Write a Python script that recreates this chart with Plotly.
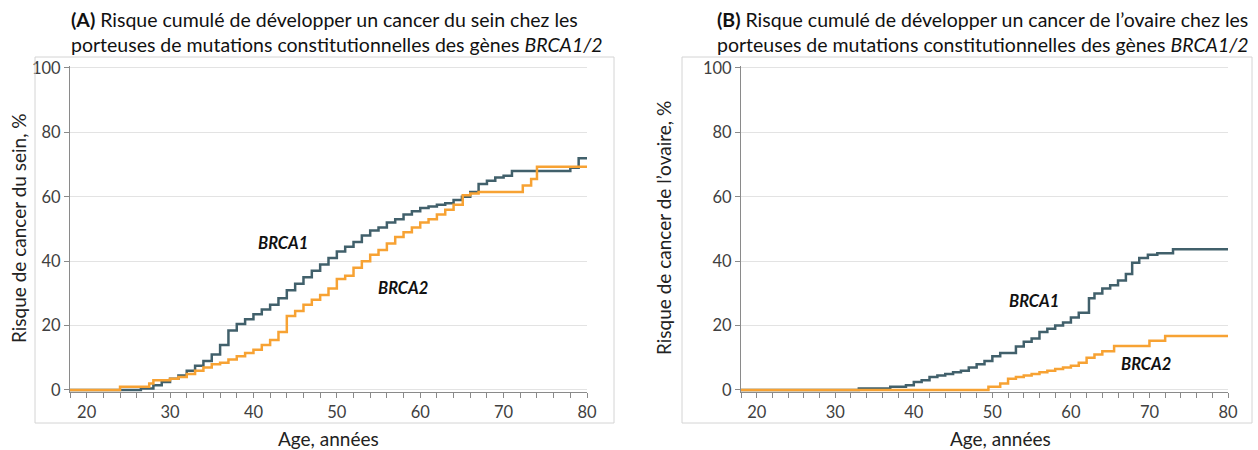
import plotly.graph_objects as go

# ---- Data ----
a_brca1_age = [18, 26.5, 28, 29, 30, 31, 32, 33, 34, 35, 36, 37, 38, 39, 40, 41, 42, 43, 44, 45, 46, 47, 48, 49,
               50, 51, 52, 53, 54, 55, 56, 57, 58, 59, 60, 61, 62, 63, 64, 65, 66, 67, 68, 69, 70, 71, 78, 79, 80]
a_brca1_val = [0, 0.5, 1.5, 2.5, 3.5, 4.5, 6, 7.5, 9, 11, 14, 18.5, 20.5, 22, 23.5, 25, 26.5, 28.5, 31, 33, 35, 37, 39, 41,
               43, 44.5, 46, 48, 49.5, 50.5, 52, 53, 54.5, 55.5, 56.5, 57, 57.5, 58, 59, 60, 61.5, 64, 65, 66, 66.5, 68, 69, 72, 72]

a_brca2_age = [18, 24, 27.5, 28, 30, 31, 32, 33, 34, 35, 36, 37, 38, 39, 40, 41, 42, 43, 44, 45, 46, 47, 48, 49,
               50, 51, 52, 53, 54, 55, 56, 57, 58, 59, 60, 61, 62, 63, 64, 65.1, 66, 67, 72.3, 73.3, 74, 80]
a_brca2_val = [0, 1, 2, 3, 3.5, 4, 5, 6, 7, 8, 8.5, 9.5, 10.5, 11.5, 12.5, 14, 15.5, 18, 23, 24.5, 26.5, 28, 29.5, 31.5,
               34.5, 35.5, 38, 40, 42, 43.5, 45.5, 47.5, 49, 50.5, 52, 53, 54.5, 56, 57.5, 60.5, 61, 61.5, 63.5, 65.5, 69.3, 69.3]

b_brca1_age = [18, 33, 37, 39, 40, 41, 42, 43, 44, 45, 46, 47, 48, 49, 50, 51, 53, 54, 55, 56, 57, 58, 59, 60, 61,
               62.3, 63, 64, 65, 66, 67, 67.8, 68.7, 69.8, 71, 73, 80]
b_brca1_val = [0, 0.5, 1, 1.5, 2.5, 3, 4, 4.5, 5, 5.5, 6, 7, 8, 9, 10.5, 11.5, 13.5, 15, 16, 18, 19, 20, 21, 22.5, 24,
               28.5, 30, 31.5, 32.5, 34, 36, 39.5, 41, 42, 42.5, 43.7, 43.7]

b_brca2_age = [18, 49.5, 51, 52, 53, 54, 55, 56, 57, 58, 59, 60, 61, 62, 63, 64, 65.5, 70, 72, 80]
b_brca2_val = [0, 1, 2, 3.5, 4, 4.5, 5, 5.5, 6, 6.5, 7, 7.5, 8.5, 10, 11, 12, 13.7, 15.3, 16.8, 16.8]

x_ticks = [20, 30, 40, 50, 60, 70, 80]
y_ticks = [0, 20, 40, 60, 80, 100]

TEAL = "#41606b"
ORANGE = "#f7a233"
FONT = "Lato"
W, H = 1258, 450

def px_x(p):
    return p / W

def px_y(p):
    return 1 - p / H

fig = go.Figure()

fig.add_trace(go.Scatter(x=a_brca1_age, y=a_brca1_val, mode="lines", line=dict(shape="hv", color=TEAL, width=2.5),
                         xaxis="x", yaxis="y", showlegend=False))
fig.add_trace(go.Scatter(x=a_brca2_age, y=a_brca2_val, mode="lines", line=dict(shape="hv", color=ORANGE, width=2.5),
                         xaxis="x", yaxis="y", showlegend=False))
fig.add_trace(go.Scatter(x=b_brca1_age, y=b_brca1_val, mode="lines", line=dict(shape="hv", color=TEAL, width=2.5),
                         xaxis="x2", yaxis="y2", showlegend=False))
fig.add_trace(go.Scatter(x=b_brca2_age, y=b_brca2_val, mode="lines", line=dict(shape="hv", color=ORANGE, width=2.5),
                         xaxis="x2", yaxis="y2", showlegend=False))

# y domain: 0 -> 390px, 100 -> 68px
ymin, ymax = -0.7, 100.7
Y0, Y100 = 390, 68
ppu = (Y0 - Y100) / 100
y_dom = [px_y(Y0 + (0 - ymin) * ppu), px_y(Y100 - (ymax - 100) * ppu)]

tick_font = dict(family=FONT, size=16.5, color="#404040")
common_x = dict(range=[18, 80], tickvals=x_ticks, ticks="outside", ticklen=5, tickcolor="#8a8a8a",
                showline=True, linecolor="#8a8a8a", linewidth=1.2, showgrid=False, zeroline=False,
                tickfont=tick_font, automargin=False,
                minor=dict(tickvals=list(range(18, 81, 2)), ticks="outside", ticklen=5, tickcolor="#8a8a8a"))
common_y = dict(range=[ymin, ymax], tickvals=y_ticks, ticks="outside", ticklen=5, tickcolor="#8a8a8a",
                showline=True, linecolor="#8a8a8a", linewidth=1.2, showgrid=True, gridcolor="#e3e3e3",
                gridwidth=1.2, zeroline=False, tickfont=tick_font, domain=y_dom, automargin=False)

fig.update_layout(
    width=W, height=H, margin=dict(l=0, r=0, t=0, b=0, pad=0),
    paper_bgcolor="white", plot_bgcolor="white",
    xaxis=dict(domain=[px_x(70), px_x(587)], anchor="y", **common_x),
    yaxis=dict(anchor="x", **common_y),
    xaxis2=dict(domain=[px_x(741), px_x(1228)], anchor="y2", **common_x),
    yaxis2=dict(anchor="x2", **common_y),
    font=dict(family=FONT, color="#222222"),
)

shapes = [
    dict(type="rect", xref="paper", yref="paper", x0=px_x(35), x1=px_x(614), y0=px_y(423), y1=px_y(57),
         line=dict(color="#d4d4d4", width=1)),
    dict(type="rect", xref="paper", yref="paper", x0=px_x(682), x1=px_x(1252), y0=px_y(423), y1=px_y(57),
         line=dict(color="#d4d4d4", width=1)),
]
fig.update_layout(shapes=shapes)

ann = []
title_font = dict(family=FONT, size=19.5, color="#111111")
# titles
ann.append(dict(xref="paper", yref="paper", x=px_x(69), y=px_y(32), xanchor="left", yanchor="middle", align="left",
                showarrow=False, font=title_font,
                text="<b>(A)</b> Risque cumulé de développer un cancer du sein chez les<br>"
                     "porteuses de mutations constitutionnelles des gènes <i>BRCA1/2</i>"))
ann.append(dict(xref="paper", yref="paper", x=px_x(715), y=px_y(32), xanchor="left", yanchor="middle", align="left",
                showarrow=False, font=title_font,
                text="<b>(B)</b> Risque cumulé de développer un cancer de l’ovaire chez les<br>"
                     "porteuses de mutations constitutionnelles des gènes <i>BRCA1/2</i>"))
# axis titles
ax_font = dict(family=FONT, size=19, color="#222222")
ann.append(dict(xref="paper", yref="paper", x=px_x(18), y=px_y(228), xanchor="center", yanchor="middle",
                textangle=-90, showarrow=False, font=ax_font, text="Risque de cancer du sein, %"))
ann.append(dict(xref="paper", yref="paper", x=px_x(663), y=px_y(228), xanchor="center", yanchor="middle",
                textangle=-90, showarrow=False, font=ax_font, text="Risque de cancer de l’ovaire, %"))
ann.append(dict(xref="paper", yref="paper", x=px_x(328), y=px_y(438), xanchor="center", yanchor="middle",
                showarrow=False, font=ax_font, text="Age, années"))
ann.append(dict(xref="paper", yref="paper", x=px_x(1000), y=px_y(438), xanchor="center", yanchor="middle",
                showarrow=False, font=ax_font, text="Age, années"))
# series labels
lab_font = dict(family=FONT, size=16.5, color="#111111")
ann.append(dict(xref="x", yref="y", x=43.5, y=45.5, showarrow=False, font=lab_font, text="<b><i>BRCA1</i></b>"))
ann.append(dict(xref="x", yref="y", x=57.9, y=31.8, showarrow=False, font=lab_font, text="<b><i>BRCA2</i></b>"))
ann.append(dict(xref="x2", yref="y2", x=55.3, y=27.7, showarrow=False, font=lab_font, text="<b><i>BRCA1</i></b>"))
ann.append(dict(xref="x2", yref="y2", x=69.6, y=8.1, showarrow=False, font=lab_font, text="<b><i>BRCA2</i></b>"))
fig.update_layout(annotations=ann)

fig.write_html("out.html", config={"displayModeBar": False},
               post_script="document.body.style.margin='0';document.body.style.overflow='hidden';")
